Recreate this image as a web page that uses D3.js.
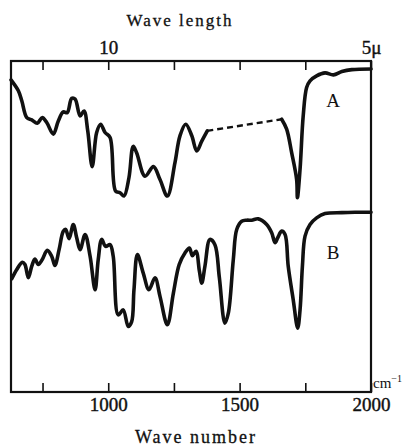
<!DOCTYPE html>
<html>
<head>
<meta charset="utf-8">
<script src="https://cdn.jsdelivr.net/npm/d3@7"></script>
<style>
    body { margin: 0; background: #fff; }
    svg { display: block; }
    .lbl { font-family: "Liberation Serif", "DejaVu Serif", serif; fill: #111; }
</style>
</head>
<body>
<div id="chart"></div>
<script>
/* jshint esversion: 6 */

// ticks shared by the wave number (bottom) and wave length (top) scales
var wavenumberTicks = [750, 1000, 1250, 1500, 1750, 2000];
var wavenumberLabels = [1000, 1500, 2000];
var wavelengthAt = [1000, 2000];
var wavelengthText = ["10", "5\u03bc"];

// spectrum A, solid part below 1380 cm-1
var aLowWn = [630, 658, 671, 690, 709, 730, 749, 766, 791, 810, 829, 844, 861, 874, 893, 908,
              922, 939, 956, 971, 988, 1007, 1028, 1045, 1060, 1079, 1095, 1108, 1140, 1172,
              1197, 1225, 1254, 1273, 1295, 1318, 1337, 1356, 1377];
var aLowT  = [94.3, 91.0, 88.0, 82.9, 82.2, 81.2, 82.9, 81.4, 77.9, 81.9, 84.6, 84.4, 88.7, 88.5,
              83.4, 84.9, 78.9, 68.1, 78.4, 80.9, 78.4, 76.9, 60.7, 60.2, 59.2, 64.8, 74.2, 72.3,
              65.2, 68.1, 64.2, 59.2, 69.3, 77.4, 80.9, 77.4, 72.8, 75.8, 78.9];
// spectrum A, solid part above 1660 cm-1
var aHighWn = [1660, 1679, 1698, 1717, 1720, 1730, 1742, 1755, 1768, 1793, 1825, 1857, 1889, 1927, 2000];
var aHighT  = [82.4, 79.4, 72.3, 64.2, 58.7, 67.3, 83.4, 92.0, 94.0, 95.5, 96.4, 95.8, 96.8, 97.4, 97.6];

// spectrum B
var bWn = [633, 652, 673, 683, 696, 709, 721, 734, 749, 768, 785, 797, 813, 829, 838, 851, 867,
           880, 893, 912, 931, 950, 962, 975, 990, 1007, 1019, 1038, 1057, 1076, 1089, 1098,
           1111, 1133, 1155, 1178, 1197, 1225, 1248, 1270, 1292, 1309, 1320, 1334, 1347, 1356,
           1368, 1387, 1406, 1423, 1444, 1457, 1476, 1489, 1508, 1527, 1546, 1571, 1603, 1622,
           1635, 1645, 1660, 1673, 1685, 1704, 1721, 1730, 1739, 1749, 1768, 1793, 1825, 1889,
           1939, 2000];
var bT  = [34.2, 37.0, 39.2, 38.5, 34.5, 38.0, 40.2, 38.5, 40.0, 42.8, 41.0, 38.2, 43.0, 48.6,
           49.1, 46.3, 50.6, 46.6, 43.0, 47.6, 41.0, 30.9, 40.0, 46.1, 44.0, 44.5, 41.0, 23.3,
           24.8, 19.8, 21.2, 30.9, 41.5, 36.0, 30.9, 34.5, 28.9, 20.3, 29.9, 38.5, 42.0, 43.5,
           41.2, 42.5, 36.5, 32.9, 38.0, 46.1, 44.5, 34.5, 20.8, 23.8, 40.0, 49.1, 51.6, 51.9,
           51.9, 52.3, 50.6, 48.1, 45.1, 46.6, 48.6, 47.6, 38.0, 27.9, 19.3, 24.8, 38.0, 47.1,
           50.6, 52.6, 53.9, 54.2, 54.3, 54.3];

(function()
{
    "use strict";

    var W = 409, H = 446;
    var plotL = 11, plotR = 371, plotT = 61, plotB = 392;

    var svg = d3.select("#chart").append("svg")
                .attr("width", W)
                .attr("height", H);

    var x = d3.scaleLinear().domain([630, 2000]).range([plotL, plotR]);
    var y = d3.scaleLinear().domain([0, 100]).range([plotB, plotT]);

    function zip(a, b) { return a.map(function(v, i) { return [v, b[i]]; }); }

    var line = d3.line()
                 .x(function(d) { return x(d[0]); })
                 .y(function(d) { return y(d[1]); })
                 .curve(d3.curveCatmullRom.alpha(0.5));

    // #########################################################################
    // axes: ticks point inward, the frame is drawn separately
    var xBottom = d3.axisBottom(x)
                    .tickValues(wavenumberTicks)
                    .tickSizeInner(-9)
                    .tickSizeOuter(0)
                    .tickPadding(6)
                    .tickFormat(function(d) { return wavenumberLabels.indexOf(d) >= 0 ? d : ""; });

    var xTop = d3.axisTop(x)
                 .tickValues(wavenumberTicks)
                 .tickSizeInner(-9)
                 .tickSizeOuter(0)
                 .tickPadding(7)
                 .tickFormat(function(d) {
                     var i = wavelengthAt.indexOf(d);
                     return i >= 0 ? wavelengthText[i] : "";
                 });

    var gb = svg.append("g").attr("transform", `translate(0,${plotB})`).call(xBottom);
    var gt = svg.append("g").attr("transform", `translate(0,${plotT})`).call(xTop);

    [gb, gt].forEach(function(g) {
        g.select(".domain").remove();
        g.selectAll(".tick line").attr("stroke", "#111").attr("stroke-width", 1.6);
        g.selectAll(".tick text")
         .attr("class", "lbl")
         .style("font-family", "'Liberation Serif', serif")
         .style("font-size", "19px")
         .attr("fill", "#111")
         .attr("stroke", "#111")
         .attr("stroke-width", 0.4);
    });

    svg.append("rect")
       .attr("x", plotL).attr("y", plotT)
       .attr("width", plotR - plotL).attr("height", plotB - plotT)
       .attr("fill", "none")
       .attr("stroke", "#111")
       .attr("stroke-width", 2.2);

    // #########################################################################
    // spectra
    function curve(data) {
        svg.append("path")
           .datum(data)
           .attr("d", line)
           .attr("fill", "none").attr("stroke", "#111")
           .attr("stroke-width", 3.6)
           .attr("stroke-linejoin", "round").attr("stroke-linecap", "round");
    }
    curve(zip(aLowWn, aLowT));
    curve(zip(aHighWn, aHighT));
    curve(zip(bWn, bT));

    // dashed bridge over the gap in A
    svg.append("path")
       .datum([[aLowWn[aLowWn.length-1], aLowT[aLowT.length-1]], [aHighWn[0], aHighT[0]]])
       .attr("d", d3.line().x(function(d) { return x(d[0]); }).y(function(d) { return y(d[1]); }))
       .attr("fill", "none").attr("stroke", "#111")
       .attr("stroke-width", 2.4).attr("stroke-dasharray", "6,4");

    // #########################################################################
    // labels
    svg.append("text").attr("class", "lbl")
       .attr("x", 333).attr("y", 107)
       .attr("text-anchor", "middle").style("font-size", "19px").text("A");
    svg.append("text").attr("class", "lbl")
       .attr("x", 333).attr("y", 259)
       .attr("text-anchor", "middle").style("font-size", "19px").text("B");

    svg.append("text").attr("class", "lbl")
       .attr("x", 180).attr("y", 26)
       .attr("text-anchor", "middle").style("font-size", "17px")
       .attr("stroke", "#111").attr("stroke-width", 0.3)
       .style("letter-spacing", "2px").text("Wave length");

    svg.append("text").attr("class", "lbl")
       .attr("x", 196).attr("y", 443)
       .attr("text-anchor", "middle").style("font-size", "18px")
       .attr("stroke", "#111").attr("stroke-width", 0.3)
       .style("letter-spacing", "2px").text("Wave number");

    svg.append("text").attr("class", "lbl")
       .attr("x", 373).attr("y", 388)
       .style("font-size", "15px")
       .text("cm").append("tspan").attr("dy", -6).style("font-size", "10px").text("\u22121");
}
)();
</script>
</body>
</html>
